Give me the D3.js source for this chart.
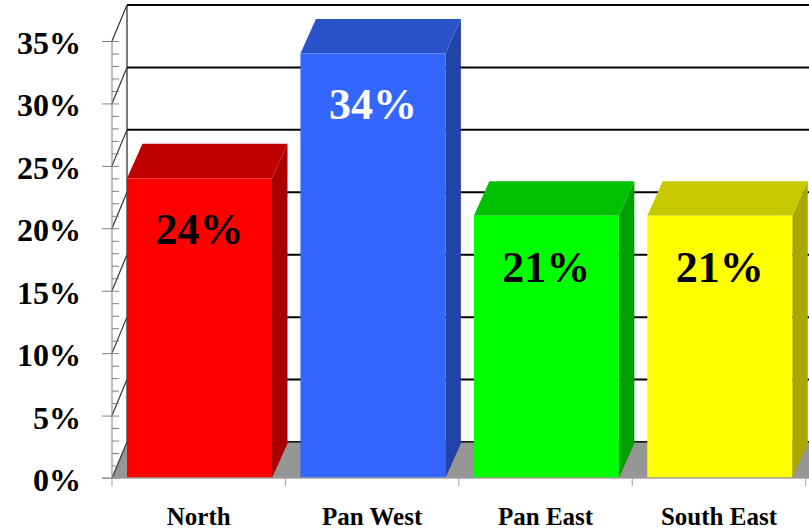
<!DOCTYPE html>
<html>
<head>
<meta charset="utf-8">
<script src="https://cdn.jsdelivr.net/npm/d3@7"></script>
<style>
  html, body { margin: 0; padding: 0; background: #fff; }
  svg { display: block; }
  text { font-family: "Liberation Serif", "Times New Roman", serif; font-weight: bold; }
</style>
</head>
<body>
<svg id="chart" width="809" height="531"></svg>
<script>
// ---- data ----
const categories = ["North", "Pan West", "Pan East", "South East"];
const values = [24, 34, 21, 21];
const yTicks = [0, 5, 10, 15, 20, 25, 30, 35];
const frontColors = ["#ff0000", "#3366ff", "#00ff00", "#ffff00"];
const topColors = ["#c00000", "#2a52c8", "#00c000", "#c8c800"];
const sideColors = ["#a80000", "#2244a8", "#00a000", "#a8a800"];
const labelColors = ["#000", "#fff", "#000", "#000"];

// ---- layout ----
const svg = d3.select("#chart");
const W = 809, H = 531;
const x0 = 112, x1 = 805.7;
const y = d3.scaleLinear().domain([0, 35]).range([478, 41]);
const x = d3.scaleBand().domain(categories).range([x0, x1]).paddingInner(0).paddingOuter(0);
const DX = 15, DY = -36;        // wall depth
const BDX = 15.5, BDY = -34.5;  // bar depth

const g = svg.append("g");

// back wall gridlines
g.selectAll("line.grid").data(yTicks).join("line")
  .attr("x1", x0 + DX).attr("x2", W + 10)
  .attr("y1", d => y(d) + DY).attr("y2", d => y(d) + DY)
  .attr("stroke", "#000").attr("stroke-width", 2);

// back wall left edge
g.append("line")
  .attr("x1", x0 + DX).attr("x2", x0 + DX)
  .attr("y1", y(35) + DY).attr("y2", y(0) + DY)
  .attr("stroke", "#222").attr("stroke-width", 1.2);

// floor
g.append("path")
  .attr("d", `M${x0},${y(0)} L${x0 + DX},${y(0) + DY} L${W + 20},${y(0) + DY} L${W + 20},${y(0)} Z`)
  .attr("fill", "#969696");
g.append("line")
  .attr("x1", x0 + DX).attr("x2", W + 10)
  .attr("y1", y(0) + DY).attr("y2", y(0) + DY)
  .attr("stroke", "#222").attr("stroke-width", 1.5);

// left wall diagonals
g.selectAll("line.diag").data(yTicks).join("line")
  .attr("x1", x0).attr("y1", d => y(d))
  .attr("x2", x0 + DX).attr("y2", d => y(d) + DY)
  .attr("stroke", "#333").attr("stroke-width", 1.2);

// bars
const barOff = x.bandwidth() * 0.0865;
const barW = x.bandwidth() * 0.836;
const bars = g.selectAll("g.bar").data(categories).join("g");
bars.each(function(c, i) {
  const gb = d3.select(this);
  const bx = x(c) + barOff, bx2 = bx + barW;
  const yt = y(values[i]), yb = y(0);
  // side
  gb.append("path")
    .attr("d", `M${bx2},${yt} L${bx2 + BDX},${yt + BDY} L${bx2 + BDX},${yb + BDY} L${bx2},${yb} Z`)
    .attr("fill", sideColors[i]);
  // top
  gb.append("path")
    .attr("d", `M${bx},${yt} L${bx + BDX},${yt + BDY} L${bx2 + BDX},${yt + BDY} L${bx2},${yt} Z`)
    .attr("fill", topColors[i]);
  // front
  gb.append("rect")
    .attr("x", bx).attr("y", yt).attr("width", barW).attr("height", yb - yt)
    .attr("fill", frontColors[i]);
  // value label
  gb.append("text")
    .attr("x", bx + barW / 2).attr("y", yt + 66)
    .attr("text-anchor", "middle")
    .attr("font-size", 44)
    .attr("fill", labelColors[i])
    .text(values[i] + "%");
});

// y axis (major)
const yAxis = d3.axisLeft(y).tickValues(yTicks).tickSize(10).tickPadding(21)
  .tickFormat(d => d + "%");
const ya = svg.append("g").attr("transform", `translate(${x0},0)`).call(yAxis);
ya.select(".domain").attr("stroke", "#808080").attr("d", `M0,${y(35)}V${y(0)}`);
ya.selectAll(".tick line").attr("stroke", "#808080");
ya.selectAll(".tick text")
  .attr("font-family", "Liberation Serif").attr("font-weight", "bold")
  .attr("font-size", 32).attr("fill", "#000").attr("dy", "0.39em");

// y axis minor ticks
const yMinor = d3.axisRight(y).tickValues(d3.range(0, 36, 1)).tickSize(7).tickFormat("");
const ym = svg.append("g").attr("transform", `translate(${x0},0)`).call(yMinor);
ym.select(".domain").remove();
ym.selectAll(".tick line").attr("stroke", "#808080");

// x axis
const xa = svg.append("g").attr("transform", `translate(0,${y(0)})`);
xa.append("line").attr("x1", x0 - 10).attr("x2", W).attr("y1", 0).attr("y2", 0)
  .attr("stroke", "#a0a0a0").attr("stroke-width", 1.5);
const bounds = categories.map(c => x(c)).concat([x1]);
xa.selectAll("line.xt").data(bounds).join("line")
  .attr("x1", d => d).attr("x2", d => d).attr("y1", 0).attr("y2", 8)
  .attr("stroke", "#a0a0a0");
xa.selectAll("text.cat").data(categories).join("text")
  .attr("x", d => x(d) + x.bandwidth() / 2).attr("y", 47)
  .attr("text-anchor", "middle").attr("font-size", 25).attr("fill", "#000")
  .text(d => d);
</script>
</body>
</html>
